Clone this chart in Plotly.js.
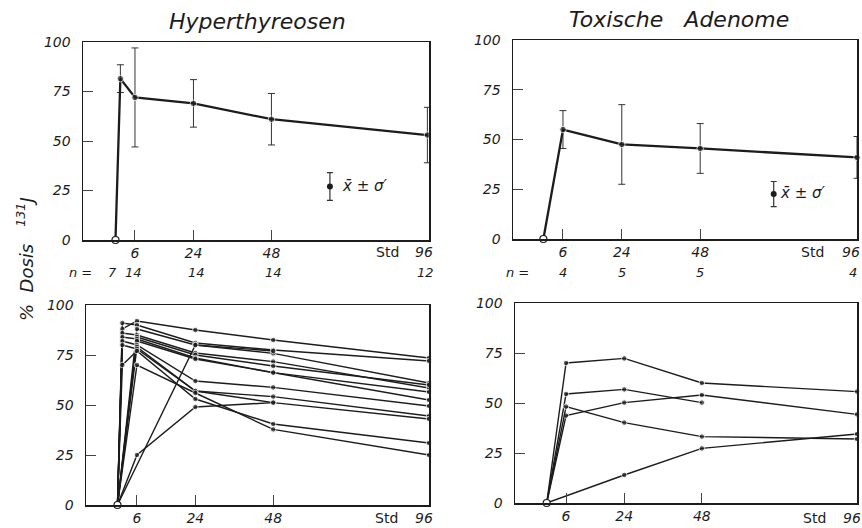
<!DOCTYPE html>
<html>
<head>
<meta charset="utf-8">
<script src="https://cdn.plot.ly/plotly-3.0.1.min.js"></script>
<style>html,body{margin:0;padding:0;background:#fff;}#chart{width:862px;height:528px;}</style>
</head>
<body>
<div id="chart"></div>
<script>
// ---------- data ----------
const hoursHyper = [0, 1.5, 6, 24, 48, 96];
const meanHyper = [0, 81.5, 72, 69, 61, 53];
const sdHyper = [null, 7, 25, 12, 13, 14];
const nHyper = ['7', '14', '14', '14', '12'];
const nHyperPos = [-0.8, 5.4, 24.8, 48.5, 95.5];

const hoursAd = [0, 6, 24, 48, 96];
const meanAd = [0, 55, 47.5, 45.5, 41];
const sdAd = [null, 9.5, 20, 12.5, 10.5];
const nAd = ['4', '5', '5', '4'];
const nAdPos = [6, 24, 48, 94.7];

const hyperIndiv = [
  [0, 88, 92, 87.5, 82.5, 73.5],
  [0, 91, 90, 81, 77.5, 72],
  [0, null, 88, 80, 75.8, 61],
  [0, 86, 85, 76, 71.7, 58.5],
  [0, null, 84, 75, 69.5, 60],
  [0, 84, 83, 73.5, 66.2, 56.5],
  [0, null, 82, 73, 66.2, 52.5],
  [0, 82, 80, 62, 58.8, 49.5],
  [0, null, 79, 57, 54.2, 44.5],
  [0, 80, 78, 57, 51.2, 43],
  [0, 70, 77, 53, 40.5, 31],
  [0, null, 70, 56, 37.8, 25],
  [0, null, 25, 49, 51.2, null],
  [0, null, null, 80, 77, null]
];
const adIndiv = [
  [0, 70, 72.3, 60, 55.7],
  [0, 54.5, 56.8, 50.2, null],
  [0, 43.7, 50.2, 54, 44.3],
  [0, 48.2, 40.2, 33.2, 32],
  [0, null, 14, 27.3, 34.5]
];

const tickVals = [6, 24, 48];
const tickText = ['6', '24', '48'];
const lastTickLabel = '96';
const yTickVals = [0, 25, 50, 75, 100];

// ---------- styling ----------
const INK = '#1c1c1c';
const FONT = 'DejaVu Sans, Liberation Sans, sans-serif';
const italic = (size) => ({family: FONT, size: size, color: INK, style: 'italic'});

const traces = [];

function meanTrace(x, y, sd, xa, ya) {
  return {
    type: 'scatter', mode: 'lines+markers', x: x, y: y, xaxis: xa, yaxis: ya,
    line: {color: INK, width: 2.3},
    marker: {color: INK, size: y.map((v, i) => i === 0 ? 0 : 6.5)},
    error_y: {type: 'data', array: sd, visible: true, color: '#333', thickness: 1, width: 3.5},
    cliponaxis: false, hoverinfo: 'skip'
  };
}
function indivTrace(x, y, xa, ya) {
  return {
    type: 'scatter', mode: 'lines+markers', x: x, y: y, xaxis: xa, yaxis: ya,
    connectgaps: true,
    line: {color: INK, width: 1.4},
    marker: {color: INK, size: y.map((v, i) => i === 0 ? 0 : 5.5)},
    cliponaxis: false, hoverinfo: 'skip'
  };
}
function originTrace(xa, ya) {
  return {
    type: 'scatter', mode: 'markers', x: [0], y: [0], xaxis: xa, yaxis: ya,
    marker: {color: '#fff', size: 7, line: {color: INK, width: 1.2}},
    cliponaxis: false, hoverinfo: 'skip'
  };
}
function legendTrace(x, y, e, xa, ya) {
  return {
    type: 'scatter', mode: 'markers', x: [x], y: [y], xaxis: xa, yaxis: ya,
    marker: {color: INK, size: 6},
    error_y: {type: 'data', array: [e], visible: true, color: '#333', thickness: 1.2, width: 3},
    hoverinfo: 'skip'
  };
}

// top-left
traces.push(meanTrace(hoursHyper, meanHyper, sdHyper, 'x', 'y'));
traces.push(originTrace('x', 'y'));
traces.push(legendTrace(66, 27, 7, 'x', 'y'));
// top-right
traces.push(meanTrace(hoursAd, meanAd, sdAd, 'x2', 'y2'));
traces.push(originTrace('x2', 'y2'));
traces.push(legendTrace(70.5, 22.6, 6.3, 'x2', 'y2'));
// bottom-left
hyperIndiv.forEach(p => traces.push(indivTrace(hoursHyper, p, 'x3', 'y3')));
traces.push(originTrace('x3', 'y3'));
// bottom-right
adIndiv.forEach(p => traces.push(indivTrace(hoursAd, p, 'x4', 'y4')));
traces.push(originTrace('x4', 'y4'));

function xAxis(domain, range, anchor) {
  return {
    domain: domain, range: range, anchor: anchor,
    showline: true, mirror: true, linecolor: INK, linewidth: 1.5,
    showgrid: false, zeroline: false,
    ticks: 'inside', ticklen: 10, tickwidth: 1, tickcolor: '#444',
    tickmode: 'array', tickvals: tickVals, ticktext: tickText,
    tickfont: italic(14), fixedrange: true
  };
}
function yAxis(domain, anchor) {
  return {
    domain: domain, range: [0, 100], anchor: anchor,
    showline: true, mirror: true, linecolor: INK, linewidth: 1.5,
    showgrid: false, zeroline: false,
    ticks: 'inside', ticklen: 10, tickwidth: 1, tickcolor: '#444',
    tickmode: 'array', tickvals: yTickVals, ticktext: yTickVals.map(String),
    tickfont: italic(14), ticklabelstandoff: 8, fixedrange: true
  };
}

const annotations = [];
function ann(o) { annotations.push(Object.assign({showarrow: false}, o)); }

ann({text: 'Hyperthyreosen', xref: 'paper', yref: 'paper', x: 257/862, y: 1 - 22/528,
     xanchor: 'center', yanchor: 'middle', font: italic(22)});
ann({text: 'Toxische\u00a0\u00a0\u00a0Adenome', xref: 'paper', yref: 'paper', x: 679/862, y: 1 - 20/528,
     xanchor: 'center', yanchor: 'middle', font: italic(22)});
ann({text: '%\u00a0\u00a0Dosis\u00a0\u00a0\u00a0<sup>131</sup>J', xref: 'paper', yref: 'paper', x: 25/862, y: 1 - 259/528,
     xanchor: 'center', yanchor: 'middle', textangle: -90, font: italic(18)});

// Std labels and last tick label
const stdFont = {family: FONT, size: 14, color: INK};
const topLabY = 1 - 252/528, botLabY = 1 - 518/528;
ann({text: 'Std', xref: 'x', yref: 'paper', x: 83.8, y: topLabY, xanchor: 'center', yanchor: 'middle', font: stdFont});
ann({text: 'Std', xref: 'x2', yref: 'paper', x: 82.4, y: topLabY, xanchor: 'center', yanchor: 'middle', font: stdFont});
ann({text: 'Std', xref: 'x3', yref: 'paper', x: 82.8, y: botLabY, xanchor: 'center', yanchor: 'middle', font: stdFont});
ann({text: 'Std', xref: 'x4', yref: 'paper', x: 82.7, y: botLabY, xanchor: 'center', yanchor: 'middle', font: stdFont});
ann({text: lastTickLabel, xref: 'x', yref: 'paper', x: 94.9, y: topLabY, xanchor: 'center', yanchor: 'middle', font: italic(14)});
ann({text: lastTickLabel, xref: 'x2', yref: 'paper', x: 94.1, y: topLabY, xanchor: 'center', yanchor: 'middle', font: italic(14)});
ann({text: lastTickLabel, xref: 'x3', yref: 'paper', x: 94.5, y: botLabY, xanchor: 'center', yanchor: 'middle', font: italic(14)});
ann({text: lastTickLabel, xref: 'x4', yref: 'paper', x: 94.5, y: botLabY, xanchor: 'center', yanchor: 'middle', font: italic(14)});

// n rows
const nY = 1 - 272/528;
ann({text: 'n =', xref: 'paper', yref: 'paper', x: 80/862, y: nY, xanchor: 'center', yanchor: 'middle', font: italic(13)});
nHyper.forEach((t, i) => ann({text: t, xref: 'x', yref: 'paper', x: nHyperPos[i], y: nY, xanchor: 'center', yanchor: 'middle', font: italic(13)}));
ann({text: 'n =', xref: 'paper', yref: 'paper', x: 517/862, y: nY, xanchor: 'center', yanchor: 'middle', font: italic(13)});
nAd.forEach((t, i) => ann({text: t, xref: 'x2', yref: 'paper', x: nAdPos[i], y: nY, xanchor: 'center', yanchor: 'middle', font: italic(13)}));

// legend texts
ann({text: 'x\u0304 \u00b1 \u03c3\u2032', xref: 'x', yref: 'y', x: 69, y: 27.5, xanchor: 'left', yanchor: 'middle', font: italic(15)});
ann({text: 'x\u0304 \u00b1 \u03c3\u2032', xref: 'x2', yref: 'y2', x: 71.8, y: 23, xanchor: 'left', yanchor: 'middle', font: italic(15)});

const layout = {
  width: 862, height: 528,
  margin: {l: 0, r: 0, t: 0, b: 0},
  paper_bgcolor: '#fff', plot_bgcolor: '#fff',
  showlegend: false,
  xaxis: xAxis([83/862, 429/862], [-10, 96.5], 'y'),
  yaxis: yAxis([1 - 240/528, 1 - 42/528], 'x'),
  xaxis2: xAxis([513/862, 857/862], [-9.3, 96], 'y2'),
  yaxis2: yAxis([1 - 239/528, 1 - 40/528], 'x2'),
  xaxis3: xAxis([86/862, 429/862], [-9.7, 96], 'y3'),
  yaxis3: yAxis([1 - 505/528, 1 - 305/528], 'x3'),
  xaxis4: xAxis([515/862, 857/862], [-9.8, 96], 'y4'),
  yaxis4: yAxis([1 - 503/528, 1 - 303/528], 'x4'),
  annotations: annotations
};

Plotly.newPlot('chart', traces, layout, {staticPlot: true, displayModeBar: false});
</script>
</body>
</html>
